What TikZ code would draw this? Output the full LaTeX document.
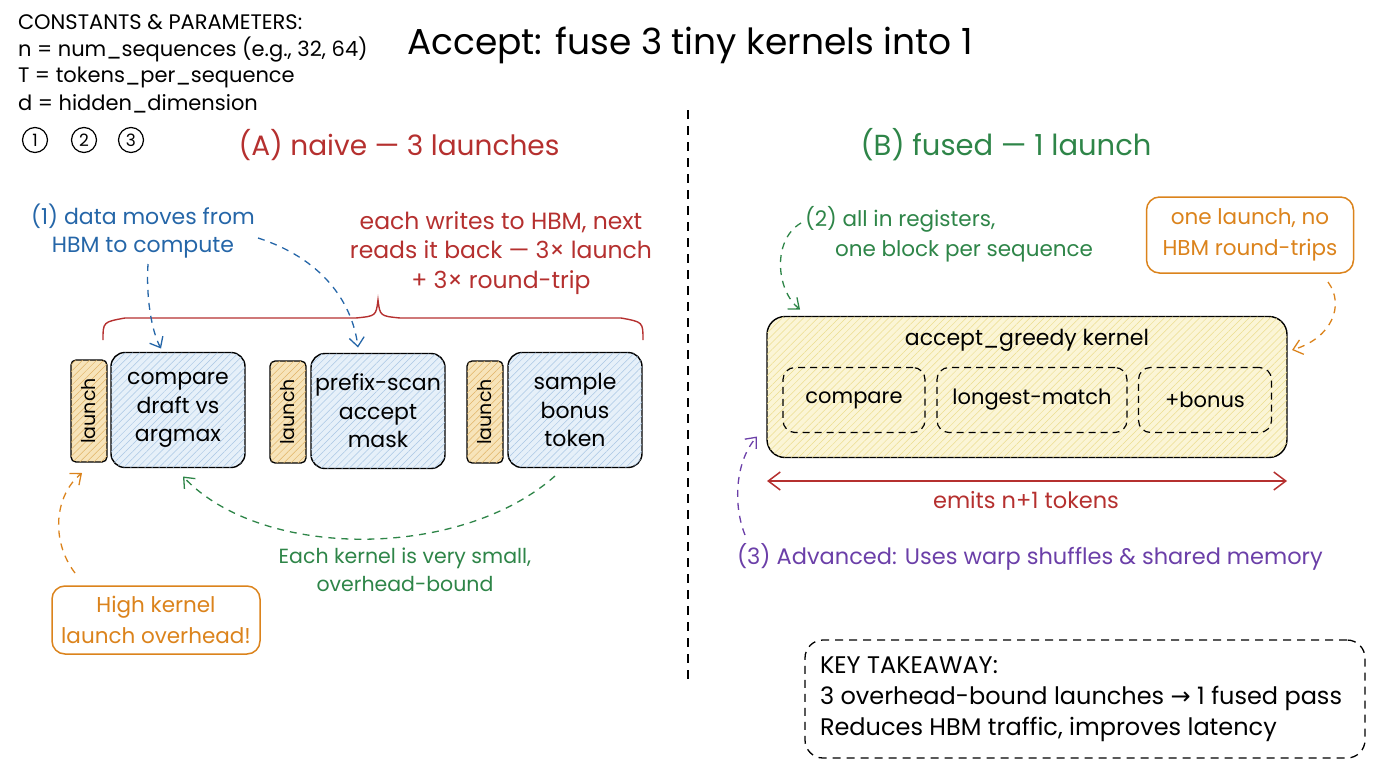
\documentclass[tikz,border=0pt]{standalone}
\usepackage{graphicx}
\usepackage{fontspec}
\setmainfont{Poppins}
\newfontfamily\symfont{DejaVu Sans}
\usetikzlibrary{arrows.meta,patterns.meta}

\definecolor{cred}{HTML}{B5302F}
\definecolor{cblue}{HTML}{2566A8}
\definecolor{cgreen}{HTML}{2E8548}
\definecolor{corange}{HTML}{DB831C}
\definecolor{cpurple}{HTML}{6B3FA8}
\definecolor{kfill}{HTML}{E6F0F9}
\definecolor{khatch}{HTML}{A9C6E4}
\definecolor{lfill}{HTML}{F7E4BA}
\definecolor{lhatch}{HTML}{E0B366}
\definecolor{yfill}{HTML}{FBF5D6}
\definecolor{yhatch}{HTML}{ECDD8E}

\newcommand\hfs[2]{\fontsize{#1}{#2}\selectfont}

\begin{document}
\begin{tikzpicture}[x=1pt,y=-1pt,
  every node/.style={inner sep=0pt, outer sep=0pt},
  txt/.style={font=\hfs{20.5}{28}, align=center},
  consttxt/.style={font=\hfs{21}{27}, anchor=west},
  numcirc/.style={circle, draw, line width=1.2pt, minimum size=25pt, font=\hfs{17}{20}},
  kernelbox/.style={draw, line width=1.4pt, rounded corners=14pt, fill=kfill,
    postaction={pattern={Lines[angle=45,distance=5pt,line width=0.5pt]}, pattern color=khatch},
    minimum width=134pt, minimum height=115pt, font=\hfs{22}{28.5}, align=center},
  launchbox/.style={draw, line width=1.3pt, rounded corners=5pt, fill=lfill,
    postaction={pattern={Lines[angle=45,distance=5pt,line width=0.5pt]}, pattern color=lhatch},
    minimum width=36pt, minimum height=102pt, font=\hfs{19}{22}},
  fusedbox/.style={draw, line width=1.4pt, rounded corners=18pt, fill=yfill,
    postaction={pattern={Lines[angle=45,distance=5pt,line width=0.5pt]}, pattern color=yhatch},
    minimum width=520pt, minimum height=141pt},
  stagebox/.style={draw, line width=1.2pt, dash pattern=on 7pt off 5pt, rounded corners=12pt,
    minimum height=65pt, font=\hfs{21}{26}},
  notebox/.style={draw=corange, line width=1.5pt, rounded corners=13pt, text=corange,
    font=\hfs{21.5}{31}, align=center},
  arr/.style={line width=1.3pt, dash pattern=on 7pt off 6pt, -{Straight Barb[length=9pt,width=15pt]}},
]
\useasboundingbox (0,0) rectangle (1376,768);

% constants block
\node[consttxt] (c0) at (18,22) {CONSTANTS \& PARAMETERS:};
\node[consttxt] (c1) at (18,50) {n = num\_sequences (e.g., 32, 64)};
\node[consttxt] (c2) at (18,77) {T = tokens\_per\_sequence};
\node[consttxt] (c3) at (18,104) {d = hidden\_dimension};
\node[numcirc] (n1) at (35,140) {1};
\node[numcirc] (n2) at (84,140) {2};
\node[numcirc] (n3) at (131,140) {3};

% title and section headings
\node[font=\hfs{36}{40}] (title) at (690,45) {Accept: fuse 3 tiny kernels into 1};
\node[font=\hfs{28}{32}, text=cred] (hA) at (399,145) {(A) naive --- 3 launches};
\node[font=\hfs{29}{32}, text=cgreen] (hB) at (1006,145) {(B) fused --- 1 launch};

% divider
\coordinate (dvt) at (688,110);
\coordinate (dvb) at (688,680);
\draw[line width=1.3pt, dash pattern=on 9pt off 7pt] (dvt) -- (dvb);

% ---------- naive side ----------
\node[launchbox] (l1) at (89,411) {\rotatebox{90}{launch}};
\node[launchbox] (l2) at (288,412) {\rotatebox{90}{launch}};
\node[launchbox] (l3) at (485,412) {\rotatebox{90}{launch}};
\node[kernelbox] (k1) at (178,410) {compare\\draft vs\\argmax};
\node[kernelbox] (k2) at (378,411) {prefix-scan\\accept\\mask};
\node[kernelbox] (k3) at (575,410) {sample\\bonus\\token};

% brace over the three kernels
\draw[cred, line width=1.4pt]
  (103,340) .. controls (103,322) .. (125,318) -- (356,318)
  .. controls (376,316) .. (378,300)
  .. controls (380,316) .. (400,318) -- (621,318)
  .. controls (643,322) .. (643,340);

\node[txt, text=cblue, font=\hfs{22}{28}] (tdata) at (143,231) {(1) data moves from\\HBM to compute};
\node[txt, text=cred, font=\hfs{23.5}{29.5}] (thbm) at (501,253)
  {each writes to HBM, next\\reads it back --- 3× launch\\+ 3× round-trip};

\coordinate (b1s) at (148,264);
\coordinate (b2s) at (258,238);
\draw[arr, cblue] (b1s) .. controls (146,295) and (151,330) .. ([xshift=-17pt,yshift=4pt]k1.north);
\draw[arr, cblue] (b2s) .. controls (320,258) and (352,300) .. ([xshift=-20pt,yshift=6pt]k2.north);

\coordinate (g1s) at (555,476);
\draw[arr, cgreen] (g1s) .. controls (460,560) and (262,560) .. ([xshift=5pt,yshift=-9pt]k1.south);
\node[txt, text=cgreen] (tsmall) at (405,570) {Each kernel is very small,\\overhead-bound};

\node[notebox, minimum width=208pt, minimum height=68pt] (hi) at (156,620) {High kernel\\launch overhead!};
\coordinate (hs) at (75,573);
\draw[arr, corange] (hs) .. controls (50,540) and (55,495) .. ([xshift=-7pt,yshift=-11pt]l1.south);

% ---------- fused side ----------
\node[fusedbox] (acc) at (1027,387) {};
\node[font=\hfs{22}{26}] (acct) at (1027,340) {accept\_greedy kernel};
\node[stagebox, minimum width=142pt] (s1) at (854,400) {compare};
\node[stagebox, minimum width=190pt] (s2) at (1032,400) {longest-match};
\node[stagebox, minimum width=133pt] (s3) at (1205,400) {+bonus};

\node[txt, text=cgreen, anchor=west, align=left, font=\hfs{21.5}{30}] (treg) at (805,234)
  {(2) all in registers,\\\hspace*{30pt}one block per sequence};
\coordinate (g2s) at (801,223);
\draw[arr, cgreen] (g2s) .. controls (772,240) and (776,290) .. ([xshift=33pt,yshift=7pt]acc.north west);

\node[notebox, minimum width=207pt, minimum height=76pt] (one) at (1250,235) {one launch, no\\HBM round-trips};
\coordinate (os) at (1328,282);
\draw[arr, corange] (os) .. controls (1345,305) and (1332,338) .. ([xshift=5pt,yshift=37pt]acc.east);

\coordinate (e1) at (767,481);
\coordinate (e2) at (1287,481);
\draw[cred, line width=1.5pt, {Straight Barb[length=12pt,width=18pt]}-{Straight Barb[length=12pt,width=18pt]}] (e1) -- (e2);
\node[txt, text=cred, font=\hfs{22.5}{28}] (temit) at (1026,500) {emits n+1 tokens};

\coordinate (ps) at (745,535);
\draw[arr, cpurple] (ps) .. controls (733,505) and (735,462) .. ([xshift=-10pt,yshift=21pt]acc.south west);
\node[txt, text=cpurple, anchor=west, font=\hfs{22.5}{28}] (tadv) at (737,557)
  {(3) Advanced: Uses warp shuffles \& shared memory};

% takeaway
\node[draw, line width=1.3pt, dash pattern=on 8pt off 6pt, rounded corners=18pt,
  minimum width=560pt, minimum height=118pt] (key) at (1085,699) {};
\node[anchor=west, align=left, font=\hfs{24}{31}] (keyt) at (820,699)
  {KEY TAKEAWAY:\\3 overhead-bound launches {\symfont→} 1 fused pass\\Reduces HBM traffic, improves latency};
\end{tikzpicture}
\end{document}
